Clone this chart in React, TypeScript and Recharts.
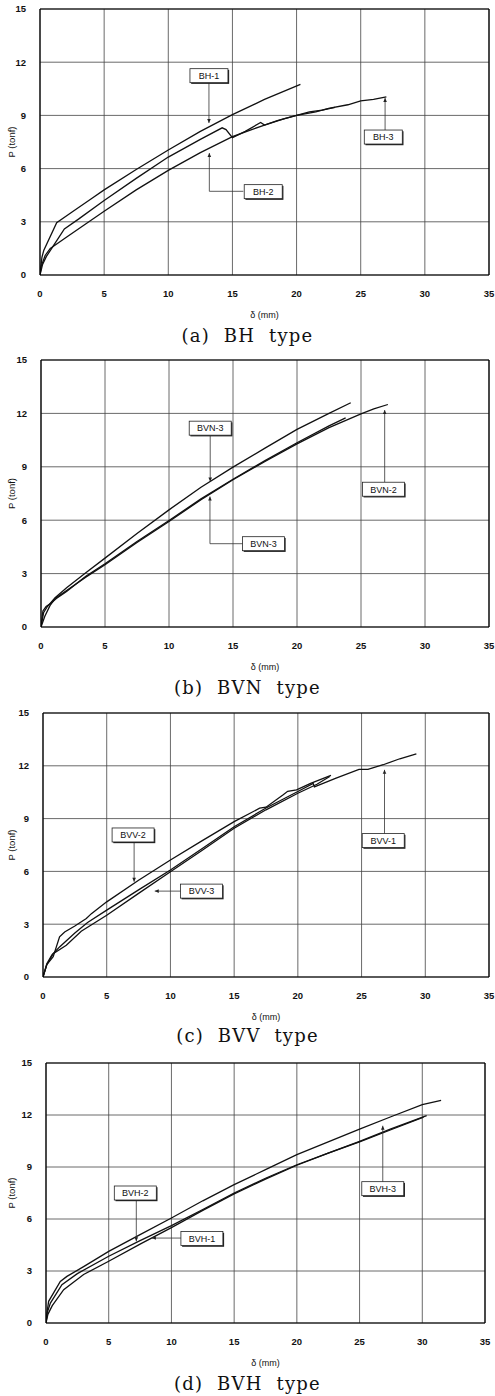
import React from 'react';
import { LineChart, Line, XAxis, YAxis, CartesianGrid, ReferenceLine, ReferenceDot } from 'recharts';

type Pt = [number, number];

const xTicks = [0, 5, 10, 15, 20, 25, 30, 35];
const yTicks = [0, 3, 6, 9, 12, 15];

// (a) BH type
const bh1: Pt[] = [[0, 0], [0.15, 1.0], [0.3, 1.4], [1.3, 2.95], [2.5, 3.55], [4, 4.3], [5, 4.8], [7.5, 5.95], [10, 7.05], [12.5, 8.1], [15, 9.04], [17.5, 9.9], [20.3, 10.75]];
const bh2: Pt[] = [[0, 0], [0.2, 0.6], [0.5, 1.05], [1.0, 1.6], [1.9, 2.6], [3, 3.15], [5, 4.2], [7.5, 5.45], [10, 6.65], [12.5, 7.65], [14.2, 8.3], [14.5, 8.2], [15.0, 7.75], [16.0, 8.1], [17.2, 8.6], [17.5, 8.45], [18.5, 8.7], [20, 9.0], [21, 9.2], [22, 9.3], [23, 9.45]];
const bh3: Pt[] = [[0, 0], [0.1, 0.5], [0.4, 1.1], [0.8, 1.5], [2, 2.1], [3.5, 2.85], [5, 3.6], [7.5, 4.8], [10, 5.9], [12.5, 6.9], [15, 7.8], [16.5, 8.2], [17.5, 8.45], [19, 8.8], [20, 9.0], [21.5, 9.2], [22.5, 9.4], [24, 9.6], [25, 9.82], [26, 9.9], [27, 10.05]];

// (b) BVN type
const bvn1: Pt[] = [[0, 0], [0.2, 0.8], [0.5, 1.15], [1.1, 1.65], [2, 2.2], [3.5, 3.05], [5, 3.87], [7.5, 5.25], [10, 6.58], [12.5, 7.85], [15, 8.98], [17.5, 10.05], [20, 11.1], [22.5, 12.0], [24.2, 12.6]];
const bvn2: Pt[] = [[0, 0], [0.3, 0.6], [0.7, 1.2], [1.1, 1.6], [2, 2.05], [3.5, 2.8], [5, 3.5], [7.5, 4.75], [10, 5.93], [12.5, 7.15], [15, 8.27], [17.5, 9.3], [20, 10.29], [22.5, 11.2], [25, 11.97], [26, 12.25], [27.1, 12.5]];
const bvn3: Pt[] = [[0, 0], [0.15, 0.9], [0.4, 1.15], [0.8, 1.35], [1.2, 1.6], [2, 2.0], [3.5, 2.85], [5, 3.55], [7.5, 4.8], [10, 5.98], [12.5, 7.2], [15, 8.3], [17.5, 9.35], [20, 10.35], [22.5, 11.3], [23.8, 11.75]];

// (c) BVV type
const bvv1: Pt[] = [[0, 0], [0.3, 0.75], [0.7, 1.25], [1.3, 1.71], [2.5, 2.5], [3.5, 3.1], [5, 3.8], [7.5, 4.95], [10, 6.08], [12.5, 7.3], [15, 8.54], [17.5, 9.6], [20, 10.54], [21.2, 11.0], [21.3, 10.8], [23, 11.3], [24.8, 11.8], [25.5, 11.8], [26.7, 12.06], [28, 12.4], [29.3, 12.68]];
const bvv2: Pt[] = [[0, 0], [0.3, 0.7], [0.8, 1.15], [1.3, 2.28], [1.7, 2.56], [2.5, 2.9], [3.4, 3.32], [3.8, 3.6], [5, 4.27], [7.5, 5.5], [10, 6.65], [12.5, 7.75], [15, 8.83], [17, 9.59], [17.5, 9.65], [18.85, 10.35], [19.2, 10.55], [19.9, 10.63], [21, 11.0], [22.6, 11.45]];
const bvv3: Pt[] = [[0, 0], [0.3, 0.7], [0.8, 1.33], [1.83, 1.8], [3, 2.6], [5, 3.51], [7.5, 4.75], [10, 5.98], [12.5, 7.2], [15, 8.45], [17.5, 9.5], [20, 10.44], [21.5, 10.95], [22.5, 11.39]];

// (d) BVH type
const bvh1: Pt[] = [[0, 0], [0.15, 0.5], [0.5, 1.0], [1.41, 1.92], [3, 2.8], [5, 3.56], [7.5, 4.55], [10, 5.5], [12.5, 6.5], [15, 7.45], [17.5, 8.3], [20, 9.1], [22.5, 9.8], [25, 10.45], [27.5, 11.15], [30.1, 11.88]];
const bvh2: Pt[] = [[0, 0], [0.1, 0.6], [0.35, 1.15], [1.27, 2.21], [2.5, 2.85], [5, 3.85], [7.5, 4.75], [10, 5.62], [12.5, 6.55], [15, 7.5], [17.5, 8.35], [20, 9.13], [22.5, 9.8], [25, 10.48], [27.5, 11.2], [30.35, 11.96]];
const bvh3: Pt[] = [[0, 0], [0.1, 0.7], [0.21, 1.25], [1.14, 2.4], [1.67, 2.69], [3, 3.25], [5, 4.13], [7.5, 5.1], [10, 6.06], [12.5, 7.05], [15, 7.98], [17.5, 8.85], [20, 9.71], [22.5, 10.45], [25, 11.19], [27.5, 11.9], [30, 12.6], [31.5, 12.85]];

// callout boxes: label, box centre, leader path (last point = arrow tip)
interface Note { text: string; box: Pt; path: Pt[] }

const bhNotes: Note[] = [
  { text: 'BH-1', box: [13.17, 11.24], path: [[13.17, 10.85], [13.17, 8.57]] },
  { text: 'BH-2', box: [17.4, 4.7], path: [[15.85, 4.72], [13.2, 4.72], [13.2, 6.88]] },
  { text: 'BH-3', box: [26.76, 7.78], path: [[26.9, 8.17], [26.9, 9.98]] },
];
const bvnNotes: Note[] = [
  { text: 'BVN-3', box: [13.22, 11.17], path: [[13.22, 10.78], [13.22, 8.17]] },
  { text: 'BVN-3', box: [17.38, 4.68], path: [[15.8, 4.68], [13.2, 4.68], [13.2, 7.33]] },
  { text: 'BVN-2', box: [26.75, 7.74], path: [[26.85, 8.13], [26.85, 12.19]] },
];
const bvvNotes: Note[] = [
  { text: 'BVV-2', box: [7.07, 8.07], path: [[7.15, 7.68], [7.15, 5.41]] },
  { text: 'BVV-3', box: [12.43, 4.88], path: [[10.85, 4.88], [8.77, 4.88]] },
  { text: 'BVV-1', box: [26.7, 7.75], path: [[26.8, 8.14], [26.8, 11.77]] },
];
const bvhNotes: Note[] = [
  { text: 'BVH-2', box: [7.12, 7.5], path: [[7.2, 7.11], [7.2, 4.71]] },
  { text: 'BVH-1', box: [12.43, 4.87], path: [[10.85, 4.9], [8.44, 4.9]] },
  { text: 'BVH-3', box: [26.85, 7.75], path: [[26.85, 8.14], [26.85, 11.38]] },
];

const toRows = (pts: Pt[]) => pts.map(([d, p]) => ({ d, p }));

const sans = '"Liberation Sans", Arial, sans-serif';

const NoteBox = (props: any) => {
  const { cx, cy, text } = props;
  const w = text.length > 4 ? 42 : 38;
  const h = 14;
  return (
    <g>
      <rect x={cx - w / 2 + 1.2} y={cy - h / 2 + 1.2} width={w} height={h} fill="#222" />
      <rect x={cx - w / 2} y={cy - h / 2} width={w} height={h} fill="#fff" stroke="#222" strokeWidth={0.8} />
      <text x={cx} y={cy + 3.3} textAnchor="middle" fontSize={9} fontFamily={sans} fill="#111">{text}</text>
    </g>
  );
};

const ArrowHead = (props: any) => {
  const { cx, cy, dir } = props;
  let pts = '';
  if (dir === 'up') pts = `${cx},${cy} ${cx - 1.8},${cy + 4} ${cx + 1.8},${cy + 4}`;
  else if (dir === 'down') pts = `${cx},${cy} ${cx - 1.8},${cy - 4} ${cx + 1.8},${cy - 4}`;
  else pts = `${cx},${cy} ${cx + 4},${cy - 1.8} ${cx + 4},${cy + 1.8}`;
  return <polygon points={pts} fill="#222" />;
};

const YLabel = (props: any) => {
  const { viewBox } = props;
  const x = 12;
  const y = viewBox.y + viewBox.height / 2;
  return (
    <text x={x} y={y} transform={`rotate(-90 ${x} ${y})`} textAnchor="middle" dominantBaseline="middle" fontSize={9.5} fontFamily={sans} fill="#111">
      P (tonf)
    </text>
  );
};

interface PanelProps {
  caption: string;
  series: Pt[][];
  notes: Note[];
  plotTop: number;
  plotBottom: number;
  plotLeft: number;
  plotRight: number;
  captionY: number;
}

function Panel({ caption, series, notes, plotTop, plotBottom, plotLeft, plotRight, captionY }: PanelProps) {
  const mTop = 8;
  const xh = 44;
  const height = plotBottom - plotTop + mTop + xh + 2;
  const tick = { fontSize: 9.5, fontFamily: sans, fontWeight: 700, fill: '#111' };
  return (
    <>
      <div style={{ position: 'absolute', left: 0, top: plotTop - mTop }}>
        <LineChart width={495} height={height} margin={{ top: mTop, right: 495 - plotRight, bottom: 2, left: 0 }}>
          <CartesianGrid stroke="#444" strokeWidth={0.8} />
          <XAxis
            type="number"
            dataKey="d"
            domain={[0, 35]}
            ticks={xTicks}
            allowDataOverflow
            tickLine={false}
            tickSize={0}
            tickMargin={15}
            height={xh}
            axisLine={{ stroke: '#000', strokeWidth: 1.2 }}
            tick={tick}
            label={{ value: 'δ (mm)', position: 'insideBottom', offset: 1, fontSize: 9, fontFamily: sans, fill: '#111' }}
          />
          <YAxis
            type="number"
            dataKey="p"
            domain={[0, 15]}
            ticks={yTicks}
            allowDataOverflow
            tickLine={false}
            tickSize={0}
            tickMargin={14}
            width={plotLeft}
            axisLine={{ stroke: '#000', strokeWidth: 1.2 }}
            tick={tick}
            label={<YLabel />}
          />
          <ReferenceLine y={15} stroke="#000" strokeWidth={1.2} />
          <ReferenceLine x={35} stroke="#000" strokeWidth={1.2} />
          {series.map((s, i) => (
            <Line
              key={i}
              data={toRows(s)}
              dataKey="p"
              type="linear"
              stroke="#111"
              strokeWidth={1.3}
              dot={false}
              isAnimationActive={false}
            />
          ))}
          {notes.map((n, i) =>
            n.path.slice(1).map((pt, j) => (
              <ReferenceLine
                key={`seg-${i}-${j}`}
                segment={[{ x: n.path[j][0], y: n.path[j][1] }, { x: pt[0], y: pt[1] }]}
                stroke="#333"
                strokeWidth={0.8}
              />
            ))
          )}
          {notes.map((n, i) => {
            const a = n.path[n.path.length - 2];
            const b = n.path[n.path.length - 1];
            const dir = a[0] === b[0] ? (b[1] > a[1] ? 'up' : 'down') : 'left';
            return (
              <ReferenceDot
                key={`arr-${i}`}
                x={b[0]}
                y={b[1]}
                r={2}
                shape={(p: any) => <ArrowHead cx={p.cx} cy={p.cy} dir={dir} />}
              />
            );
          })}
          {notes.map((n, i) => (
            <ReferenceDot
              key={`box-${i}`}
              x={n.box[0]}
              y={n.box[1]}
              r={2}
              shape={(p: any) => <NoteBox cx={p.cx} cy={p.cy} text={n.text} />}
            />
          ))}
        </LineChart>
      </div>
      <div
        style={{
          position: 'absolute',
          left: 0,
          width: 495,
          top: captionY - 9,
          textAlign: 'center',
          fontFamily: '"DejaVu Serif", serif',
          fontSize: 18,
          lineHeight: '18px',
          letterSpacing: 1.2,
          whiteSpace: 'pre',
          color: '#111',
        }}
      >
        {caption}
      </div>
    </>
  );
}

export default function App() {
  return (
    <div style={{ position: 'absolute', left: 0, top: 0, width: 495, height: 1396, background: '#fff' }}>
      <Panel caption="(a)  BH  type" series={[bh1, bh2, bh3]} notes={bhNotes} plotTop={9} plotBottom={275} plotLeft={40} plotRight={489} captionY={336} />
      <Panel caption="(b)  BVN  type" series={[bvn1, bvn2, bvn3]} notes={bvnNotes} plotTop={360} plotBottom={627} plotLeft={41} plotRight={489} captionY={688} />
      <Panel caption="(c)  BVV  type" series={[bvv1, bvv2, bvv3]} notes={bvvNotes} plotTop={713} plotBottom={977} plotLeft={43} plotRight={489} captionY={1036} />
      <Panel caption="(d)  BVH  type" series={[bvh1, bvh2, bvh3]} notes={bvhNotes} plotTop={1063} plotBottom={1323} plotLeft={46} plotRight={485} captionY={1384} />
    </div>
  );
}
